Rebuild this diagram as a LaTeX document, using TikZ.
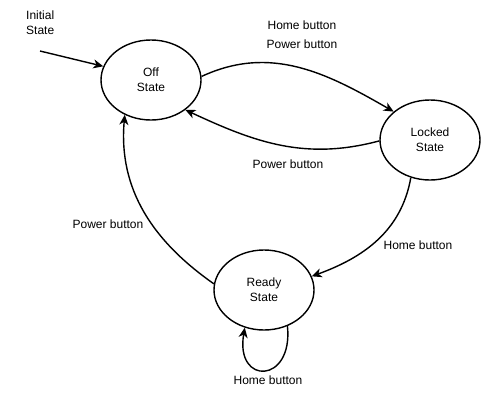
\documentclass[tikz,border=0pt]{standalone}
\usepackage{fontspec}
\setmainfont{Liberation Sans}
\usepackage{tikz}
\usetikzlibrary{arrows.meta,positioning,shapes.geometric}

\begin{document}
\begin{tikzpicture}[x=1pt,y=-1pt,
		state/.style={ellipse,draw,line width=1.4pt,minimum width=100pt,minimum height=80pt,inner sep=0pt,align=center,font=\fontsize{12}{15}\selectfont},
		lbl/.style={font=\fontsize{12}{15}\selectfont,inner sep=0pt},
		trans/.style={line width=1.4pt,-{Stealth[length=10pt,width=9pt,inset=3pt]}}]
		\useasboundingbox (0,0) rectangle (492,405);
		
		\node[state] (off) at (151,80) {Off\\State};
		\node[state] (locked) at (430,140) {Locked\\State};
		\node[state] (ready) at (264,290) {Ready\\State};
		
		\node[lbl,anchor=north west,align=left] (initlbl) at (26,11) {Initial\\State};
		\coordinate (init) at (40,51);
		\draw[trans] (init) -- (off.164);
		
		\draw[trans] (off.4) to[out=25,in=150] (locked.142);
		\node[lbl] (homeA) at (302,25) {Home button};
		\node[lbl] (powerA) at (302,44) {Power button};
		
		\draw[trans] (locked.181) to[out=195,in=-25] (off.-41);
		\node[lbl] (powerB) at (288,164) {Power button};
		
		\draw[trans] (locked.-117) to[out=-100,in=20] (ready.16);
		\node[lbl] (homeB) at (418,245) {Home button};
		
		\draw[trans] (ready.173) to[out=145,in=-95] (off.-127);
		\node[lbl] (powerC) at (108,224) {Power button};
		
		\draw[trans] (ready.-57) .. controls +(6,58) and +(-10,58) .. (ready.-117);
		\node[lbl] (homeC) at (268,380) {Home button};
	\end{tikzpicture}
\end{document}
